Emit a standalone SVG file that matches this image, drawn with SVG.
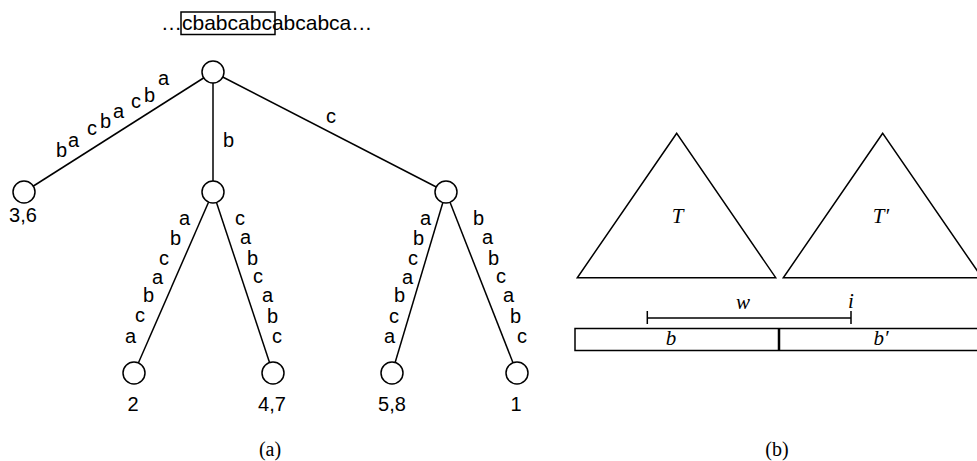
<svg xmlns="http://www.w3.org/2000/svg" width="977" height="461" viewBox="0 0 977 461">
<style>
.ln{stroke:#000;stroke-width:1.5;fill:none}
.nd{fill:#fff;stroke:#000;stroke-width:1.5}
.lb{font-family:"Liberation Sans",Arial,sans-serif;font-size:20px;fill:#000}
.top{font-family:"Liberation Sans",Arial,sans-serif;font-size:21px;fill:#000}
.mi{font-family:"Liberation Serif","Times New Roman",serif;font-style:italic;font-size:21px;fill:#000;text-anchor:middle}
.rm{font-family:"Liberation Serif","Times New Roman",serif;font-size:20px;fill:#000;text-anchor:middle}
.mid{text-anchor:middle}
</style>
<rect width="977" height="461" fill="#fff"/>
<g id="top-string">
<text class="top" x="161" y="30">…cbabcabcabcabca…</text>
<rect x="181" y="12" width="94" height="22.5" fill="none" stroke="#000" stroke-width="1.5"/>
</g>
<g id="connectors">
<line class="ln" x1="213" y1="72" x2="24" y2="192"/>
<line class="ln" x1="213" y1="72" x2="213" y2="192"/>
<line class="ln" x1="213" y1="72" x2="446" y2="192"/>
<line class="ln" x1="213" y1="192" x2="134" y2="373"/>
<line class="ln" x1="213" y1="192" x2="273" y2="373"/>
<line class="ln" x1="446" y1="192" x2="392" y2="373"/>
<line class="ln" x1="446" y1="192" x2="517" y2="373"/>
<text class="lb" x="56 68 87 100 113 131 144 158" y="157 147 135 128 118 108 102 85">bacbacba</text>
<text class="lb" x="223" y="147">b</text>
<text class="lb" x="326" y="123">c</text>
<text class="lb" x="179 170 159 152 143 135 125" y="225 245 265 284 302 322 343">abcabca</text>
<text class="lb" x="235 240 247 253 262 267 272" y="225 244 265 283 302 323 343">cabcabc</text>
<text class="lb" x="420 413 408 402 394 389 384" y="225 245 265 284 302 323 343">abcabca</text>
<text class="lb" x="473 482 488 496 503 510 517" y="225 244 265 283 302 323 343">babcabc</text>
</g>
<g id="root"><circle class="nd" cx="213" cy="72" r="11"/></g>
<g id="leaf-36"><circle class="nd" cx="24" cy="192" r="11"/><text class="lb mid" x="23" y="222">3,6</text></g>
<g id="node-b"><circle class="nd" cx="213" cy="192" r="11"/></g>
<g id="node-c"><circle class="nd" cx="446" cy="192" r="11"/></g>
<g id="leaf-2"><circle class="nd" cx="134" cy="373" r="11"/><text class="lb mid" x="133" y="411">2</text></g>
<g id="leaf-47"><circle class="nd" cx="273" cy="373" r="11"/><text class="lb mid" x="272" y="411">4,7</text></g>
<g id="leaf-58"><circle class="nd" cx="392" cy="373" r="11"/><text class="lb mid" x="392" y="411">5,8</text></g>
<g id="leaf-1"><circle class="nd" cx="517" cy="373" r="11"/><text class="lb mid" x="516" y="411">1</text></g>
<text class="rm" x="270" y="456">(a)</text>
<g id="tri-T">
<polygon points="676.7,133.3 577.3,277.7 775.7,277.7" fill="none" stroke="#000" stroke-width="1.5"/>
<text class="mi" x="677.5" y="223">T</text>
</g>
<g id="tri-T2">
<polygon points="882.7,133.3 783.3,277.7 982,277.7" fill="none" stroke="#000" stroke-width="1.5"/>
<text class="mi" x="881" y="223">T′</text>
</g>
<g id="interval">
<line class="ln" x1="647.3" y1="318" x2="851" y2="318"/>
<line class="ln" x1="647.3" y1="311" x2="647.3" y2="324"/>
<line class="ln" x1="851" y1="311" x2="851" y2="324"/>
<text class="mi" x="743" y="309">w</text>
<text class="mi" x="851" y="308">i</text>
</g>
<g id="blocks">
<rect x="575" y="328.5" width="410" height="22" fill="none" stroke="#000" stroke-width="1.5"/>
<line x1="779" y1="328.5" x2="779" y2="350.5" stroke="#000" stroke-width="2.5"/>
<text class="mi" x="671" y="345">b</text>
<text class="mi" x="881" y="345">b′</text>
</g>
<text class="rm" x="777" y="456">(b)</text>
</svg>
